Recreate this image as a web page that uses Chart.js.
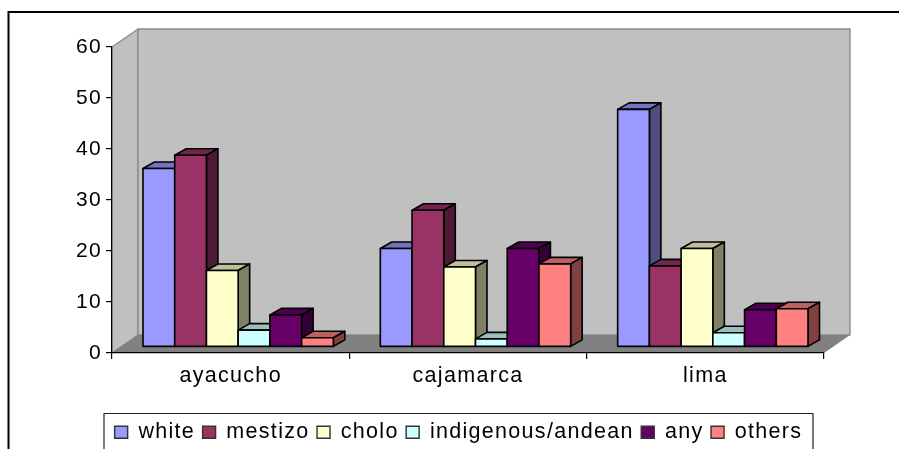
<!DOCTYPE html>
<html>
<head>
<meta charset="utf-8">
<title>ayacucho, cajamarca, lima</title>
<script src="https://cdn.jsdelivr.net/npm/chart.js@4"></script>
<style>
  html, body { margin: 0; padding: 0; background: #fff; overflow: hidden; }
  canvas { display: block; }
</style>
</head>
<body>
<canvas id="groupChart" width="899" height="449"></canvas>
<script>
var cities = ["ayacucho", "cajamarca", "lima"];
var white = [35, 19.3, 46.6];
var mestizo = [37.6, 26.8, 15.9];
var cholo = [15, 15.7, 19.3];
var andean = [3.3, 1.6, 2.8];
var any = [6.3, 19.3, 7.3];
var others = [1.8, 16.3, 7.5];

// depth of the floor and walls, and of each bar, in pixels
var WALL_DX = 26, WALL_DY = 18;
var BAR_SHIFT_X = 7.5, BAR_SHIFT_Y = 6;
var BAR_DX = 11.5, BAR_DY = 6.5;
var LETTER_SPACING = "1.3px";
var FONT = "'Liberation Sans', Arial, sans-serif";

function shade(hex, k) {
  var n = parseInt(hex.slice(1), 16);
  var r = Math.round((n >> 16 & 255) * k);
  var g = Math.round((n >> 8 & 255) * k);
  var b = Math.round((n & 255) * k);
  return "rgb(" + r + "," + g + "," + b + ")";
}

function poly(ctx, pts, fill, stroke, lw) {
  ctx.beginPath();
  ctx.moveTo(pts[0][0], pts[0][1]);
  for (var i = 1; i < pts.length; i++) ctx.lineTo(pts[i][0], pts[i][1]);
  ctx.closePath();
  if (fill) { ctx.fillStyle = fill; ctx.fill(); }
  if (stroke) { ctx.strokeStyle = stroke; ctx.lineWidth = lw; ctx.lineJoin = "round"; ctx.stroke(); }
}

function spaced(chart) {
  chart.ctx.letterSpacing = LETTER_SPACING;
}

var box3d = {
  id: "box3d",
  beforeLayout: function (chart) { spaced(chart); },
  afterLayout: function (chart) {
    // the legend sits in its own frame, centred under the plot
    var lg = chart.legend;
    lg.left = 104; lg.right = 813;
    lg.top = 414; lg.bottom = 449;
  },
  beforeDraw: function (chart) {
    var ctx = chart.ctx, a = chart.chartArea;
    spaced(chart);
    ctx.save();

    // outer frame, open at the bottom and right
    ctx.strokeStyle = "#000";
    ctx.lineWidth = 2;
    ctx.beginPath();
    ctx.moveTo(8.5, 449);
    ctx.lineTo(8.5, 12);
    ctx.lineTo(899, 12);
    ctx.stroke();

    // side wall, back wall, floor
    poly(ctx, [[a.left, a.bottom], [a.left + WALL_DX, a.bottom - WALL_DY],
      [a.left + WALL_DX, a.top - WALL_DY], [a.left, a.top]], "#c0c0c0", "#8c8c8c", 1.4);
    poly(ctx, [[a.left + WALL_DX, a.bottom - WALL_DY], [a.right + WALL_DX, a.bottom - WALL_DY],
      [a.right + WALL_DX, a.top - WALL_DY], [a.left + WALL_DX, a.top - WALL_DY]], "#c0c0c0", "#8c8c8c", 1.4);
    poly(ctx, [[a.left, a.bottom], [a.right, a.bottom],
      [a.right + WALL_DX, a.bottom - WALL_DY], [a.left + WALL_DX, a.bottom - WALL_DY]], "#808080");

    // legend frame runs off the bottom of the canvas
    var lg = chart.legend;
    ctx.strokeStyle = "#222";
    ctx.lineWidth = 1.2;
    ctx.strokeRect(lg.left, 413.5, lg.right - lg.left, 60);
    ctx.restore();
  },
  beforeDatasetsDraw: function (chart) {
    var ctx = chart.ctx;
    ctx.save();
    ctx.translate(BAR_SHIFT_X, -BAR_SHIFT_Y);
    // left to right, so each front face covers the side of the bar before it
    chart.data.labels.forEach(function (_, j) {
      chart.data.datasets.forEach(function (ds, i) {
        var bar = chart.getDatasetMeta(i).data[j];
        var l = bar.x - bar.width / 2, r = bar.x + bar.width / 2;
        var t = bar.y, b = bar.base;
        poly(ctx, [[l, t], [r, t], [r + BAR_DX, t - BAR_DY], [l + BAR_DX, t - BAR_DY]],
          shade(ds.backgroundColor, 0.75), "#000", 1.6);
        poly(ctx, [[r, t], [r + BAR_DX, t - BAR_DY], [r + BAR_DX, b - BAR_DY], [r, b]],
          shade(ds.backgroundColor, 0.5), "#000", 1.6);
        bar.draw(ctx);
        ctx.strokeStyle = "#000";
        ctx.lineWidth = 1.6;
        ctx.strokeRect(l, t, r - l, b - t);
      });
    });
    ctx.restore();
  },
  // every bar is already painted above
  beforeDatasetDraw: function () { return false; }
};

function series(label, data, color) {
  return { label: label, data: data, backgroundColor: color, borderWidth: 0 };
}

new Chart(document.getElementById("groupChart").getContext("2d"), {
  type: "bar",
  data: {
    labels: cities,
    datasets: [
      series("white", white, "#9999ff"),
      series("mestizo", mestizo, "#993366"),
      series("cholo", cholo, "#ffffcc"),
      series("indigenous/andean", andean, "#ccffff"),
      series("any", any, "#660066"),
      series("others", others, "#ff8080")
    ]
  },
  plugins: [box3d],
  options: {
    responsive: false,
    animation: false,
    datasets: { bar: { categoryPercentage: 0.802, barPercentage: 1 } },
    layout: { padding: { top: 47, right: 75, left: 0, bottom: 0 } },
    plugins: {
      tooltip: { enabled: false },
      legend: {
        position: "bottom",
        labels: {
          color: "#000",
          font: { family: FONT, size: 21.5 },
          boxWidth: 13,
          boxHeight: 12,
          padding: 7.5,
          generateLabels: function (chart) {
            return Chart.defaults.plugins.legend.labels.generateLabels(chart).map(function (item) {
              item.strokeStyle = "#333";
              item.lineWidth = 1.4;
              return item;
            });
          }
        }
      }
    },
    scales: {
      x: {
        afterFit: function (scale) { scale.height = 57; },
        border: { color: "#000", width: 1.2 },
        grid: { drawOnChartArea: false, color: "#000", tickLength: 6, lineWidth: 1.2 },
        ticks: {
          color: "#000",
          maxRotation: 0,
          padding: 4,
          font: { family: FONT, size: 21.5 }
        }
      },
      y: {
        min: 0,
        max: 60,
        afterFit: function (scale) { scale.width = 112; },
        border: { color: "#000", width: 1.2 },
        grid: { drawOnChartArea: false, color: "#000", tickLength: 6, lineWidth: 1.2 },
        ticks: {
          color: "#000",
          stepSize: 10,
          padding: 4,
          font: { family: FONT, size: 21 }
        }
      }
    }
  }
});
</script>
</body>
</html>
